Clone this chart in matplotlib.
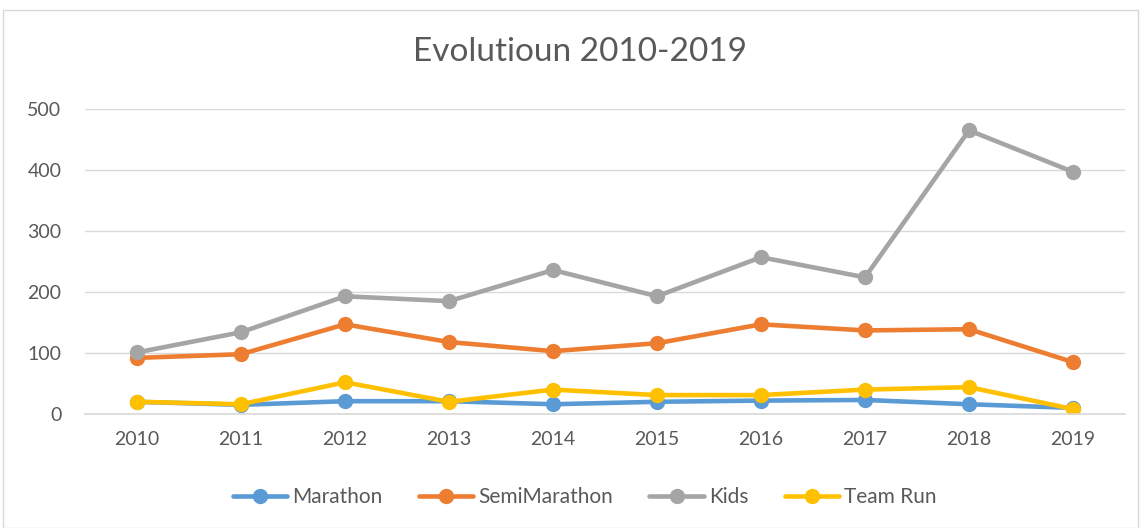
import matplotlib
matplotlib.use("Agg")
import matplotlib.pyplot as plt
from matplotlib.patches import Rectangle

years = ["2010", "2011", "2012", "2013", "2014", "2015", "2016", "2017", "2018", "2019"]
marathon = [20, 15, 21, 21, 16, 20, 22, 23, 16, 10]
semimarathon = [92, 98, 147, 118, 103, 116, 147, 137, 139, 85]
kids = [101, 134, 193, 185, 236, 193, 257, 224, 465, 397]
teamrun = [20, 16, 52, 20, 40, 31, 31, 40, 44, 8]
yticks = [0, 100, 200, 300, 400, 500]

plt.rcParams['font.family'] = ['Lato', 'DejaVu Sans']

fig = plt.figure(figsize=(11.42, 5.28), dpi=100)
fig.patches.append(Rectangle((3/1142, 0.0), 1135/1142, 518/528, transform=fig.transFigure,
                             fill=False, edgecolor='#d9d9d9', linewidth=1))
ax = fig.add_axes([85/1142, (528-414)/528, 1040/1142, 305/528])

x = list(range(len(years)))
series = [(marathon, '#5b9bd5', 'Marathon'),
          (semimarathon, '#ed7d31', 'SemiMarathon'),
          (kids, '#a5a5a5', 'Kids'),
          (teamrun, '#ffc000', 'Team Run')]
for vals, col, lab in series:
    ax.plot(x, vals, color=col, linewidth=3.3, marker='o', markersize=10, label=lab,
            solid_capstyle='round')

ax.set_xlim(-0.5, len(years) - 0.5)
ax.set_ylim(0, 500)
ax.set_yticks(yticks)
ax.set_xticks(x)
ax.set_xticklabels(years)
ax.grid(axis='y', color='#d9d9d9', linewidth=1)
ax.set_axisbelow(True)
for s in ['top', 'right', 'left']:
    ax.spines[s].set_visible(False)
ax.spines['bottom'].set_color('#d9d9d9')
ax.spines['bottom'].set_linewidth(1.2)
ax.tick_params(axis='both', length=0, labelsize=14, labelcolor='#595959')
ax.tick_params(axis='y', pad=17)
ax.tick_params(axis='x', pad=12)

fig.text(0.508, 1 - 52/528, 'Evolutioun 2010-2019', ha='center', va='center',
         fontsize=24, color='#595959')

leg = fig.legend(loc='center', bbox_to_anchor=(0.512, 1 - 497/528), ncol=4, frameon=False,
                 fontsize=15, handlelength=2.6, columnspacing=1.75, handletextpad=0.25)
for t in leg.get_texts():
    t.set_color('#595959')

fig.savefig('out.png', dpi=100)
